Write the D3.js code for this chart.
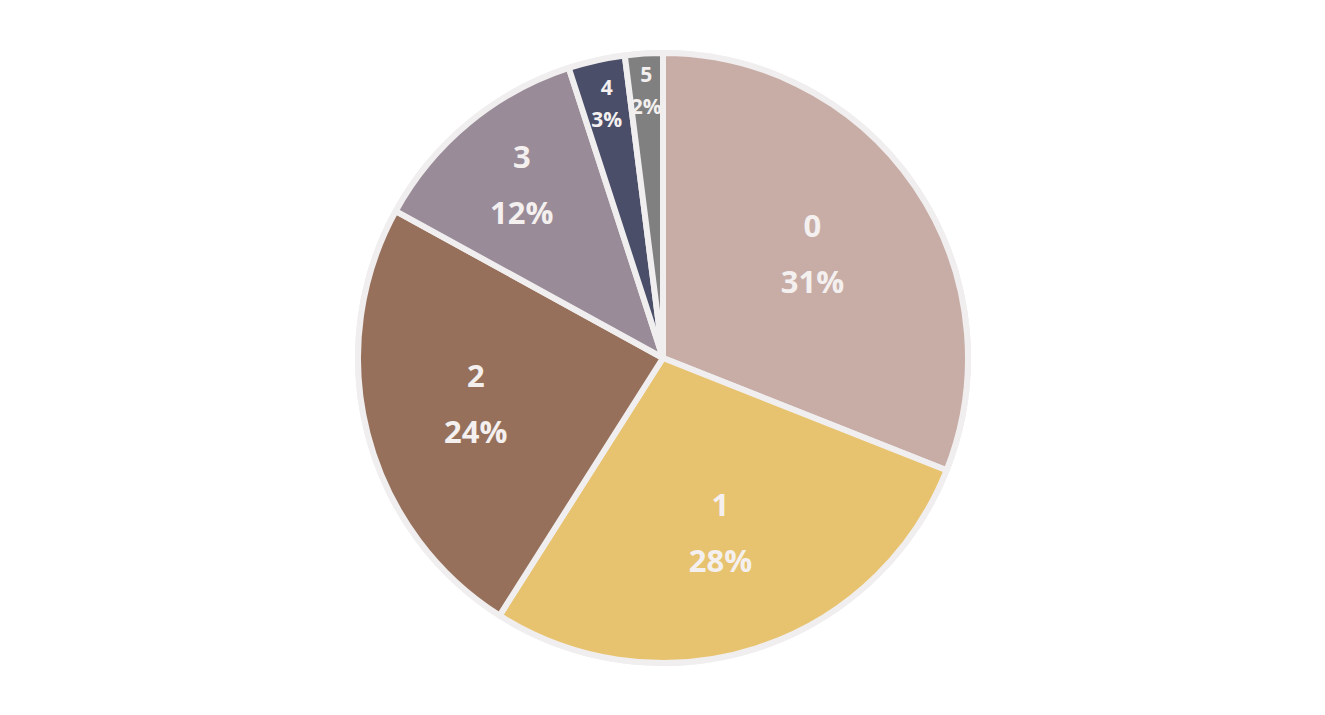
<!DOCTYPE html>
<html>
<head>
<meta charset="utf-8">
<script src="https://cdn.jsdelivr.net/npm/d3@7"></script>
<style>
  html, body { margin: 0; padding: 0; background: #ffffff; }
  svg { display: block; }
</style>
</head>
<body>
<svg id="chart" width="1325" height="715"></svg>
<script>
// Data
const categories = ["0", "1", "2", "3", "4", "5"];
const percents = [31, 28, 24, 12, 3, 2];
const colors = ["#c8ada7", "#e8c36f", "#96705b", "#9a8b98", "#4a4e69", "#808080"];

const W = 1325, H = 715;
const cx = 663, cy = 358;
const R = 305;

const svg = d3.select("#chart");
const g = svg.append("g").attr("transform", `translate(${cx},${cy})`);

const data = categories.map((c, i) => ({ name: c, value: percents[i], color: colors[i] }));
const total = d3.sum(percents);

const pie = d3.pie().value(d => d.value).sort(null);
const arcs = pie(data);
const arc = d3.arc().innerRadius(0).outerRadius(R);

// outer ring background
g.append("circle").attr("r", R + 3).attr("fill", "#f0eeee");

g.selectAll("path.slice")
  .data(arcs)
  .enter().append("path")
  .attr("class", "slice")
  .attr("d", arc)
  .attr("fill", d => d.data.color)
  .attr("stroke", "#f0eeee")
  .attr("stroke-width", 6)
  .attr("stroke-linejoin", "round");

// label placement: narrower slices push labels outward
function labelRadius(d) {
  const theta = d.endAngle - d.startAngle;
  return R - 94 * Math.pow(theta, 0.42);
}

const labels = g.selectAll("g.label")
  .data(arcs)
  .enter().append("g")
  .attr("class", "label")
  .attr("transform", d => {
    const a = (d.startAngle + d.endAngle) / 2;
    const r = labelRadius(d);
    return `translate(${Math.sin(a) * r},${-Math.cos(a) * r - 3})`;
  });

labels.each(function(d) {
  const small = d.data.value / total < 0.05;
  const fs = small ? 21 : 31;
  const gap = small ? 16 : 28;
  const sel = d3.select(this);
  sel.append("text")
    .attr("y", -gap)
    .attr("text-anchor", "middle")
    .attr("dominant-baseline", "central")
    .attr("font-family", "'Open Sans', sans-serif")
    .attr("font-weight", 700)
    .attr("font-size", fs)
    .attr("fill", "#f4f0ef")
    .text(d.data.name);
  sel.append("text")
    .attr("y", gap)
    .attr("text-anchor", "middle")
    .attr("dominant-baseline", "central")
    .attr("font-family", "'Open Sans', sans-serif")
    .attr("font-weight", 700)
    .attr("font-size", fs)
    .attr("fill", "#f4f0ef")
    .text(Math.round(d.data.value / total * 100) + "%");
});
</script>
</body>
</html>
